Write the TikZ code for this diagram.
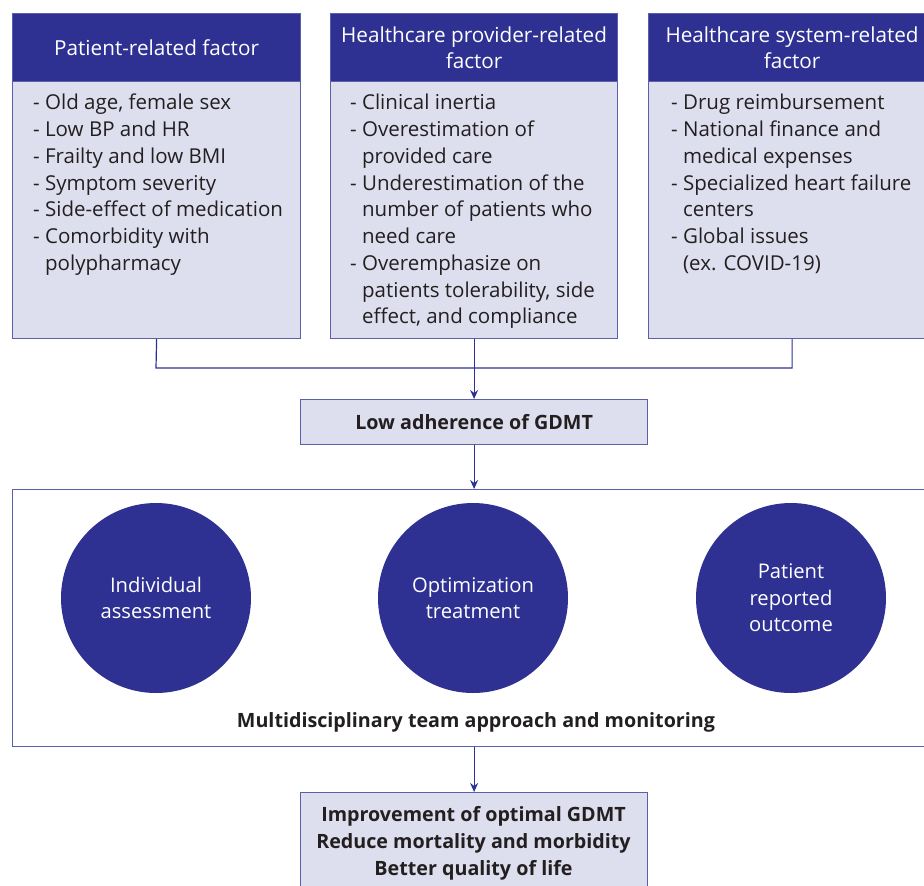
\documentclass[tikz,border=0pt]{standalone}
\usepackage{fontspec}
\setmainfont{Open Sans}
\usetikzlibrary{arrows.meta}
\definecolor{navy}{RGB}{46,49,146}
\definecolor{lav}{RGB}{222,223,238}
\definecolor{edgec}{RGB}{92,95,170}
\definecolor{ink}{RGB}{35,31,32}
\begin{document}
\begin{tikzpicture}[x=1pt,y=1pt,
  hdr/.style={draw=edgec, fill=navy, line width=1.2pt, text=white, anchor=north west, inner sep=0pt, align=center, font=\fontsize{20.7}{26}\selectfont},
  bodybox/.style={draw=edgec, fill=lav, line width=1.2pt, anchor=north west, inner sep=0pt},
  txt/.style={anchor=north west, align=left, inner sep=0pt, text=ink, font=\fontsize{20.5}{26.75}\selectfont},
  plainbox/.style={draw=edgec, line width=1.2pt, anchor=north west, inner sep=0pt},
  circ/.style={circle, fill=navy, minimum size=190pt, inner sep=0pt, text=white, align=center, font=\fontsize{20.2}{26.5}\selectfont},
  btxt/.style={inner sep=0pt, align=center, text=ink, font=\fontsize{19.7}{27}\selectfont\bfseries},
  conn/.style={draw=navy, line width=1.2pt},
  arr/.style={conn, -{Stealth[length=9pt,width=8pt]}}]
\useasboundingbox (0,0) rectangle (924,-886);
\clip (0,0) rectangle (924,-886);
% headers and bodies
\node[bodybox, minimum width=288pt, minimum height=257pt] (b1) at (12,-81) {};
\node[bodybox, minimum width=287pt, minimum height=257pt] (b2) at (330,-81) {};
\node[bodybox, minimum width=287pt, minimum height=257pt] (b3) at (648,-81) {};
\node[hdr, minimum width=288pt, minimum height=68pt] (h1) at (12,-13) {Patient-related factor};
\node[hdr, minimum width=287pt, minimum height=68pt] (h2) at (330,-13) {Healthcare provider-related\\factor};
\node[hdr, minimum width=287pt, minimum height=68pt] (h3) at (648,-13) {Healthcare system-related\\factor};
\node[txt] (t1) at (33,-94) {- Old age, female sex\\- Low BP and HR\\- Frailty and low BMI\\- Symptom severity\\- Side-effect of medication\\- Comorbidity with\\\phantom{- }polypharmacy};
\node[txt] (t2) at (350,-94) {- Clinical inertia\\- Overestimation of\\\phantom{- }provided care\\- Underestimation of the\\\phantom{- }number of patients who\\\phantom{- }need care\\- Overemphasize on\\\phantom{- }patients tolerability, side\\\phantom{- }effect, and compliance};
\node[txt] (t3) at (671,-94) {- Drug reimbursement\\- National finance and\\\phantom{- }medical expenses\\- Specialized heart failure\\\phantom{- }centers\\- Global issues\\\phantom{- }(ex. COVID-19)};
% low adherence
\node[bodybox, minimum width=347pt, minimum height=45pt] (low) at (300,-399) {};
\node[btxt] (lowt) at (low.center) {Low adherence of GDMT};
% team box
\node[plainbox, fill=white, minimum width=930pt, minimum height=257pt] (mdt) at (12,-489) {};
\node[circ] (c1) at (156,-598) {Individual\\assessment};
\node[circ] (c2) at (473,-598) {Optimization\\treatment};
\node[circ] (c3) at (791,-598) {Patient\\reported\\outcome};
\node[btxt] (mdtl) at (476,-722) {Multidisciplinary team approach and monitoring};
% result
\node[bodybox, minimum width=347pt, minimum height=110pt] (res) at (300,-792) {};
\node[btxt, anchor=north] (rest) at (473.5,-806) {Improvement of optimal GDMT\\Reduce mortality and morbidity\\Better quality of life};
% connectors
\coordinate (j1) at (156,-368);
\draw[conn] (b1.south) -- (j1) -| (b3.south);
\draw[arr] (b2.south) -- (low.north);
\draw[arr] (low.south) -- (low.south |- mdt.north);
\draw[arr] (low.south |- mdt.south) -- (res.north);
\end{tikzpicture}
\end{document}
